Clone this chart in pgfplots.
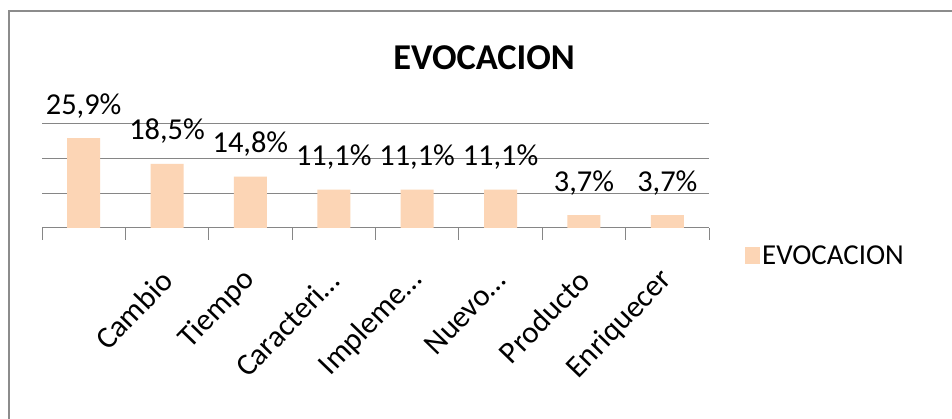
\documentclass[border=0pt]{standalone}
\usepackage{fontspec}
\setmainfont{Carlito}
\usepackage{pgfplots}
\pgfplotsset{compat=1.18}
\definecolor{barc}{HTML}{FCD5B5}
\definecolor{gridc}{HTML}{868686}
\definecolor{framec}{HTML}{8C8C8C}
\begin{document}
\begin{tikzpicture}
\useasboundingbox (0,0) rectangle (952bp,419bp);
\fill[white] (0,0) rectangle (952bp,419bp);
\draw[framec, line width=2bp] (9bp,0) -- (9bp,408bp) -- (952bp,408bp);
\begin{axis}[
  at={(42bp,191bp)}, anchor=south west,
  scale only axis, width=667bp, height=104bp,
  xmin=0, xmax=8, ymin=0, ymax=30,
  axis x line*=bottom, axis y line*=left,
  y axis line style={draw=none},
  x axis line style={gridc, line width=1bp},
  ytick={10,20,30}, yticklabels={}, ytick style={draw=none},
  ymajorgrids, grid style={gridc, line width=1bp},
  xtick={0.5,1.5,...,7.5},
  xticklabels={{},Cambio,Tiempo,Caracteri…,Impleme…,Nuevo…,Producto,Enriquecer},
  major x tick style={draw=none},
  minor xtick={0,1,...,8}, minor tick length=12bp,
  minor x tick style={gridc, line width=1bp},
  tick align=outside,
  xticklabel style={yshift=-43bp, font=\fontsize{31}{33}\selectfont, rotate=46, anchor=east, inner sep=0pt},
  title={\textbf{EVOCACION}},
  title style={font=\fontsize{36.5}{40}\selectfont, at={(0.663,1.465)}, anchor=base, inner sep=0pt},
  legend style={at={(1.054,-0.27)}, anchor=west, draw=none, fill=none, inner sep=0pt,
    font=\fontsize{29}{31}\selectfont},
  legend image code/.code={\fill[barc] (-6bp,-8bp) rectangle (9bp,9bp);},
  clip=false,
]
\addplot[ybar, bar width=33bp, bar shift=0pt, fill=barc, draw=none,
  nodes near coords={\pgfmathprintnumber[assume math mode=true, fixed, fixed zerofill, precision=1, use comma]{\pgfplotspointmeta}\%},
  nodes near coords style={font=\fontsize{30.5}{32}\selectfont, anchor=base, inner sep=0pt, yshift=24bp, text=black},
] coordinates {
  (0.5,25.9) (1.5,18.5) (2.5,14.8) (3.5,11.1) (4.5,11.1) (5.5,11.1) (6.5,3.7) (7.5,3.7)
};
\addlegendentry{EVOCACION}
\end{axis}
\end{tikzpicture}
\end{document}
